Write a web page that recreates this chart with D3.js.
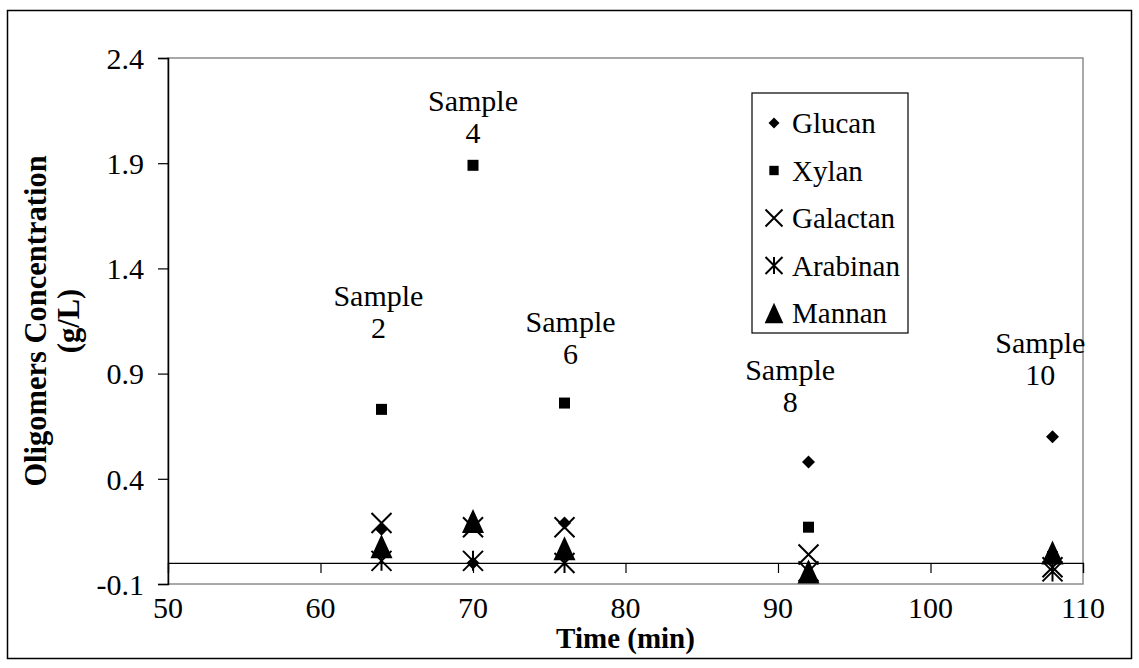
<!DOCTYPE html>
<html>
<head>
<meta charset="utf-8">
<script src="https://cdn.jsdelivr.net/npm/d3@7"></script>
<style>
  html, body { margin: 0; padding: 0; background: #fff; }
  svg { display: block; }
  text { font-family: "Liberation Serif", "Times New Roman", serif; fill: #000; }
</style>
</head>
<body>
<svg id="chart" width="1139" height="668"></svg>
<script>
// Sampling times (min) and oligomer concentrations (g/L)
const times = [64, 70, 76, 92, 108];
const glucan   = [0.16, 0.00, 0.19, 0.48, 0.60];
const xylan    = [0.73, 1.89, 0.76, 0.17, 0.03];
const galactan = [0.19, 0.17, 0.17, 0.04, -0.02];
const arabinan = [0.01, 0.01, 0.00, -0.04, -0.04];
const mannan   = [0.08, 0.20, 0.07, -0.04, 0.05];

const seriesNames = ["Glucan", "Xylan", "Galactan", "Arabinan", "Mannan"];
const seriesValues = [glucan, xylan, galactan, arabinan, mannan];
const seriesShapes = ["diamond", "square", "cross", "asterisk", "triangle"];

const xTicks = [50, 60, 70, 80, 90, 100, 110];
const yTicks = [-0.1, 0.4, 0.9, 1.4, 1.9, 2.4];

// Sample annotations, anchored in data units (time, concentration)
const sampleText = ["Sample 2", "Sample 4", "Sample 6", "Sample 8", "Sample 10"];
const sampleAtTime = [63.8, 70.0, 76.4, 90.8, 107.2];
const sampleAtConc = [1.22, 2.15, 1.10, 0.87, 1.00];

const svg = d3.select("#chart");
const W = 1139, H = 668;
const plot = { left: 168, top: 58, right: 1083, bottom: 584 };

const x = d3.scaleLinear().domain([50, 110]).range([plot.left, plot.right]);
const y = d3.scaleLinear().domain([-0.1, 2.4]).range([plot.bottom, plot.top]);

// outer chart frame
svg.append("rect")
  .attr("x", 7.5).attr("y", 10.5).attr("width", W - 15).attr("height", H - 20)
  .attr("fill", "#fff").attr("stroke", "#000").attr("stroke-width", 1.5);

// plot area border
svg.append("rect")
  .attr("x", plot.left).attr("y", plot.top)
  .attr("width", plot.right - plot.left).attr("height", plot.bottom - plot.top)
  .attr("fill", "#fff").attr("stroke", "#8c8c8c").attr("stroke-width", 1.5);

// y axis (plain hyphen for negative values)
const fmt = d3.format(".1f");
const yAxis = d3.axisLeft(y).tickValues(yTicks).tickSize(10).tickPadding(14)
  .tickFormat(d => fmt(d).replace("\u2212", "-"));
const gy = svg.append("g").attr("transform", `translate(${plot.left},0)`).call(yAxis);
gy.select(".domain").attr("stroke", "#000").attr("stroke-width", 1.5);
gy.selectAll(".tick line").attr("stroke", "#000").attr("stroke-width", 1.2);
gy.selectAll(".tick text")
  .attr("font-size", 30).attr("font-family", "Liberation Serif").attr("dy", "0.34em");

// x axis crossing at zero, labels along the bottom of the plot
const xAxis = d3.axisBottom(x).tickValues(xTicks).tickSize(10).tickFormat("");
const gx = svg.append("g").attr("transform", `translate(0,${y(0)})`).call(xAxis);
gx.select(".domain").attr("stroke", "#000").attr("stroke-width", 1.2);
gx.selectAll(".tick line").attr("stroke", "#000").attr("stroke-width", 1.2);

svg.append("g").selectAll("text").data(xTicks).join("text")
  .attr("x", d => x(d)).attr("y", plot.bottom + 34)
  .attr("text-anchor", "middle").attr("font-size", 30)
  .text(d => d);

// axis titles
svg.append("text")
  .attr("x", (plot.left + plot.right) / 2).attr("y", plot.bottom + 64)
  .attr("text-anchor", "middle").attr("font-size", 29).attr("font-weight", "bold")
  .text("Time (min)");

const yTitle = svg.append("text")
  .attr("transform", `translate(46,${(plot.top + plot.bottom) / 2}) rotate(-90)`)
  .attr("text-anchor", "middle").attr("font-size", 30.5).attr("font-weight", "bold");
yTitle.append("tspan").attr("x", 0).attr("dy", 0).text("Oligomers Concentration");
yTitle.append("tspan").attr("x", 0).attr("dy", 33).text("(g/L)");

// marker drawing
function drawMarker(g, shape, cx, cy, scale) {
  const s = scale || 1;
  if (shape === "diamond") {
    const r = 6.5 * s;
    g.append("path").attr("d", `M${cx},${cy - r}L${cx + r},${cy}L${cx},${cy + r}L${cx - r},${cy}Z`)
      .attr("fill", "#000");
  } else if (shape === "square") {
    const r = 5.5 * s;
    g.append("rect").attr("x", cx - r).attr("y", cy - r).attr("width", 2 * r).attr("height", 2 * r)
      .attr("fill", "#000");
  } else if (shape === "cross") {
    const r = 10 * s;
    g.append("path").attr("d", `M${cx - r},${cy - r}L${cx + r},${cy + r}M${cx - r},${cy + r}L${cx + r},${cy - r}`)
      .attr("stroke", "#000").attr("stroke-width", 2).attr("fill", "none");
  } else if (shape === "asterisk") {
    const r = 10 * s;
    g.append("path").attr("d",
      `M${cx - r},${cy - r}L${cx + r},${cy + r}M${cx - r},${cy + r}L${cx + r},${cy - r}M${cx},${cy - r}L${cx},${cy + r}`)
      .attr("stroke", "#000").attr("stroke-width", 2).attr("fill", "none");
  } else if (shape === "triangle") {
    const w = 11 * s, h = 12 * s;
    g.append("path").attr("d", `M${cx},${cy - h}L${cx + w},${cy + h}L${cx - w},${cy + h}Z`)
      .attr("fill", "#000");
  }
}

// data points
const gPts = svg.append("g");
seriesValues.forEach((vals, si) => {
  vals.forEach((v, i) => drawMarker(gPts, seriesShapes[si], x(times[i]), y(v)));
});

// sample annotations: "Sample" over the sample number
const gLab = svg.append("g");
sampleText.forEach((label, i) => {
  const cx = x(sampleAtTime[i]);
  const t = gLab.append("text").attr("text-anchor", "middle").attr("font-size", 30)
    .attr("x", cx).attr("y", y(sampleAtConc[i]));
  label.split(" ").forEach((s, k) => t.append("tspan").attr("x", cx).attr("dy", k ? 32 : 0).text(s));
});

// legend
const lg = svg.append("g");
const lgBox = { x: 752, y: 93, w: 156, h: 240 };
lg.append("rect").attr("x", lgBox.x).attr("y", lgBox.y).attr("width", lgBox.w).attr("height", lgBox.h)
  .attr("fill", "#fff").attr("stroke", "#000").attr("stroke-width", 1.2);
seriesNames.forEach((name, i) => {
  const cy = lgBox.y + 30 + i * 47.5;
  drawMarker(lg, seriesShapes[i], lgBox.x + 22, cy, 0.85);
  lg.append("text").attr("x", lgBox.x + 40).attr("y", cy + 10)
    .attr("font-size", 29).text(name);
});
</script>
</body>
</html>
